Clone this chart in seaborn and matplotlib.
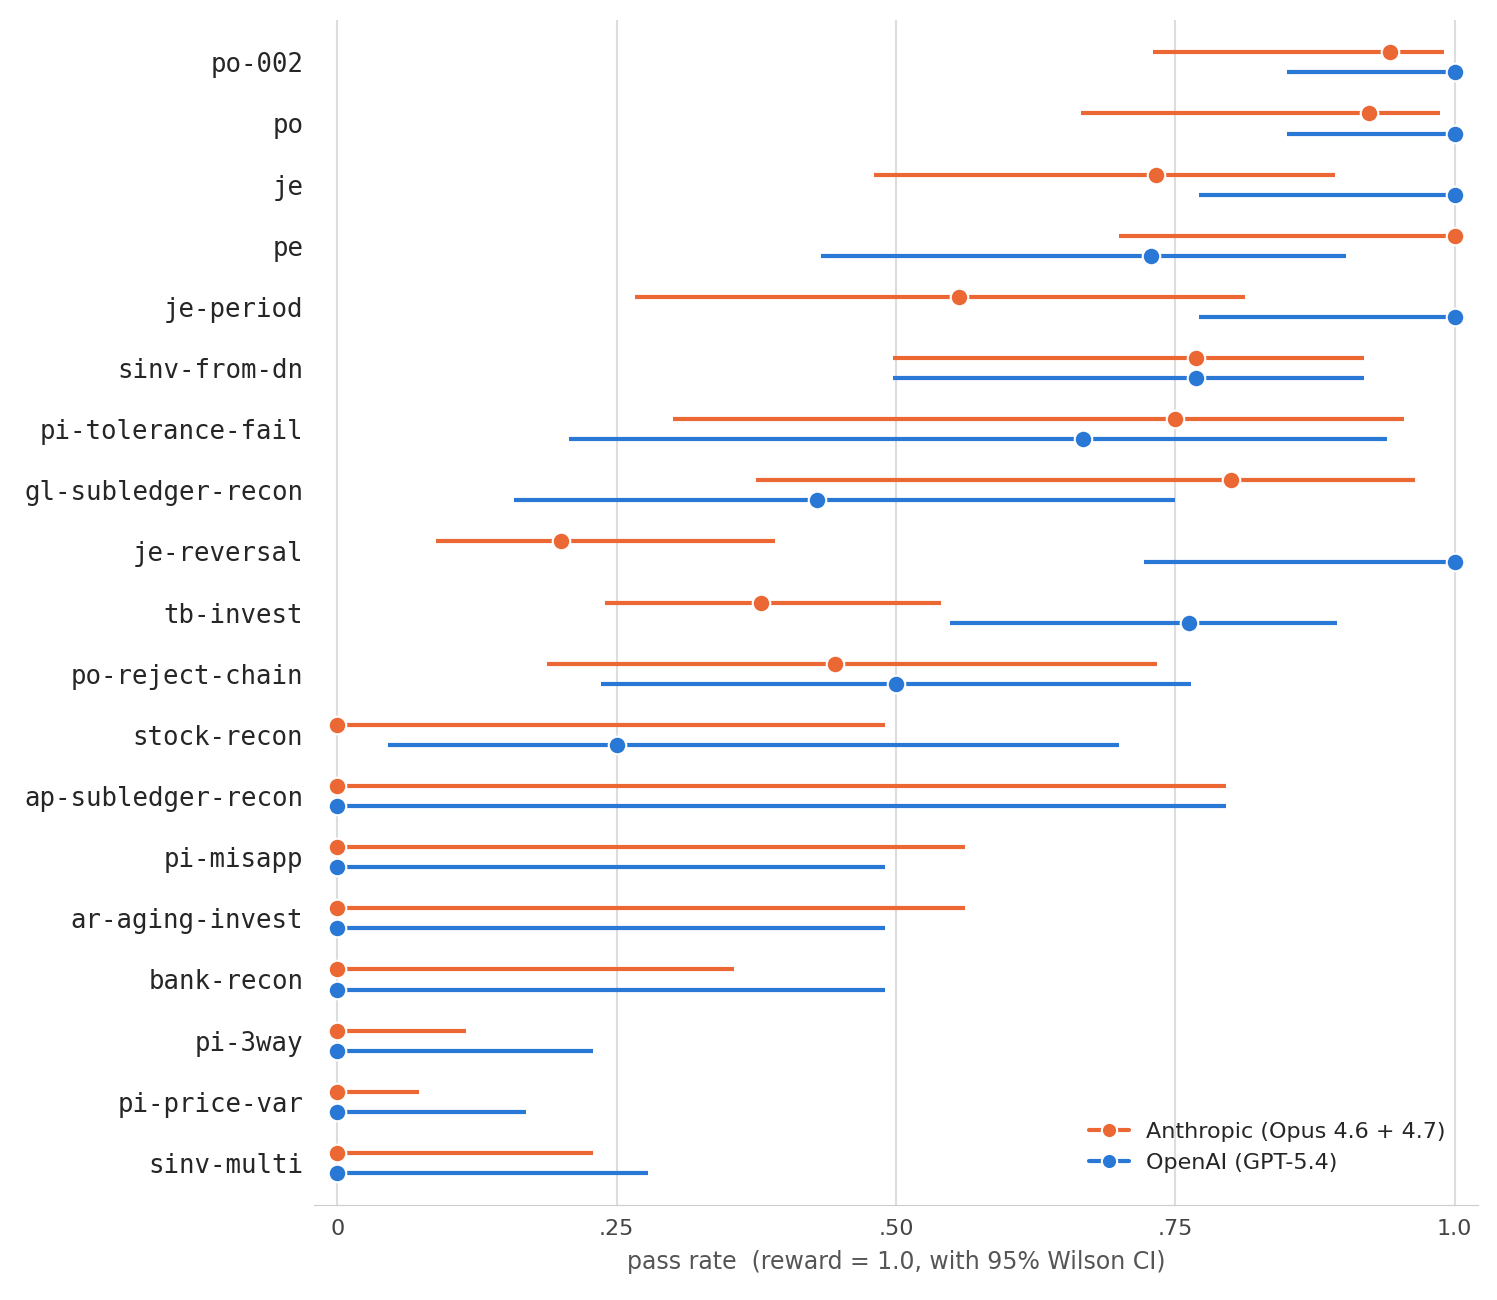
import matplotlib
matplotlib.use("Agg")
import matplotlib.pyplot as plt
import seaborn as sns
import numpy as np
import pandas as pd

tasks = ["po-002","po","je","pe","je-period","sinv-from-dn","pi-tolerance-fail","gl-subledger-recon",
         "je-reversal","tb-invest","po-reject-chain","stock-recon","ap-subledger-recon","pi-misapp",
         "ar-aging-invest","bank-recon","pi-3way","pi-price-var","sinv-multi"]
anth_p  = [0.942,0.923,0.733,1.0,0.556,0.769,0.75,0.80,0.20,0.379,0.445,0,0,0,0,0,0,0,0]
anth_lo = [0.730,0.666,0.480,0.700,0.266,0.497,0.300,0.375,0.088,0.240,0.188,0,0,0,0,0,0,0,0]
anth_hi = [0.991,0.987,0.893,1.0,0.812,0.919,0.955,0.965,0.392,0.540,0.734,0.490,0.795,0.562,0.562,0.355,0.115,0.073,0.229]
oai_p   = [1.0,1.0,1.0,0.728,1.0,0.769,0.667,0.429,1.0,0.762,0.5,0.25,0,0,0,0,0,0,0]
oai_lo  = [0.850,0.850,0.771,0.433,0.771,0.497,0.207,0.158,0.722,0.548,0.236,0.045,0,0,0,0,0,0,0]
oai_hi  = [1.0,1.0,1.0,0.903,1.0,0.919,0.940,0.750,1.0,0.895,0.764,0.700,0.795,0.490,0.490,0.490,0.229,0.169,0.278]

sns.set_style("white")
plt.rcParams['font.family'] = ['DejaVu Sans']
fig, ax = plt.subplots(figsize=(14.97, 13), dpi=100)
fig.subplots_adjust(left=0.21, right=0.987, top=0.985, bottom=0.073)

series = [("Anthropic (Opus 4.6 + 4.7)", "#EB6834", anth_p, anth_lo, anth_hi, -0.165),
          ("OpenAI (GPT-5.4)", "#2A78D6", oai_p, oai_lo, oai_hi, 0.165)]
y = np.arange(len(tasks))
for name, c, p, lo, hi, off in series:
    yy = y + off
    ax.hlines(yy, lo, hi, color=c, lw=3, zorder=2)
    df = pd.DataFrame({"x": p, "y": yy})
    sns.scatterplot(data=df, x="x", y="y", ax=ax, color=c, s=160, edgecolor="white",
                    linewidth=1.5, zorder=3)
    ax.plot([], [], color=c, lw=3, marker="o", ms=11, mec="white", mew=1.5, label=name)

ax.set_yticks(y)
ax.set_yticklabels(tasks, family="DejaVu Sans Mono", fontsize=18.5)
ax.set_ylim(len(tasks) - 0.31, -0.7)
ax.set_xlim(-0.0206, 1.0206)
ax.set_xticks([0, 0.25, 0.5, 0.75, 1.0])
ax.set_xticklabels(["0", ".25", ".50", ".75", "1.0"], fontsize=16, color="#444444")
ax.tick_params(axis="y", length=0, pad=8)
ax.tick_params(axis="x", length=0, pad=10)
ax.grid(axis="x", color="#dddddd", lw=1.5, zorder=0)
ax.set_axisbelow(True)
for s in ["top", "right", "left"]:
    ax.spines[s].set_visible(False)
ax.spines["bottom"].set_color("#cccccc")
ax.set_xlabel("pass rate  (reward = 1.0, with 95% Wilson CI)", fontsize=17, color="#555555", labelpad=8)
ax.set_ylabel("")
ax.legend(loc="lower right", frameon=False, fontsize=16, handlelength=1.8,
          bbox_to_anchor=(0.99, 0.01))
fig.savefig("out.png", dpi=100)
